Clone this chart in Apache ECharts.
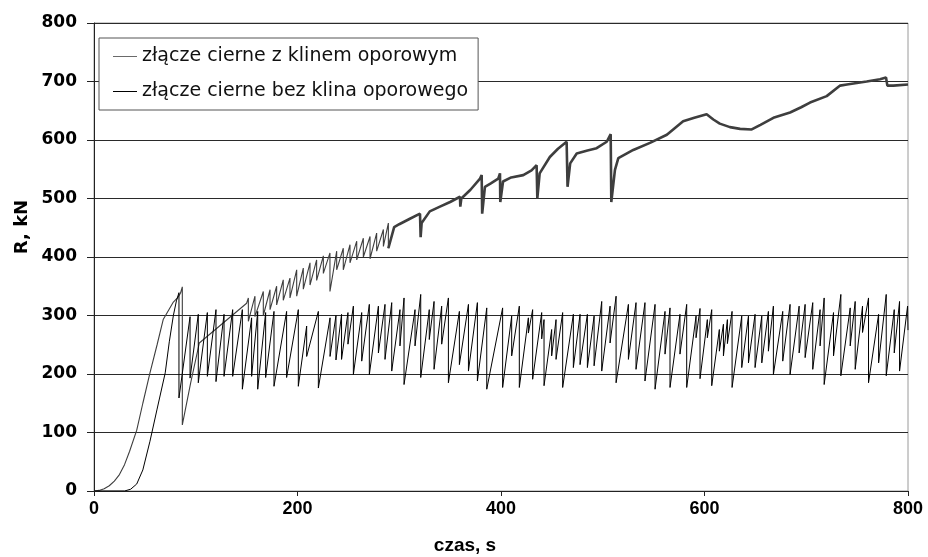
<!DOCTYPE html>
<html>
<head>
<meta charset="utf-8">
<script src="https://cdn.jsdelivr.net/npm/echarts@6/dist/echarts.min.js"></script>
<style>
  html, body { margin: 0; padding: 0; background: #fff; }
  #chart { width: 928px; height: 557px; }
</style>
</head>
<body>
<div id="chart"></div>
<script>
// Series names
const nameKlin = 'złącze cierne z klinem oporowym';
const nameBez = 'złącze cierne bez klina oporowego';

// Axis ticks
const xTicks = [0, 200, 400, 600, 800];
const yTicks = [0, 100, 200, 300, 400, 500, 600, 700, 800];

// --- złącze cierne z klinem oporowym (czas [s], R [kN]) ---
// initial loading
const klinRiseTime  = [0, 5, 10, 15, 20, 25, 30, 35, 42, 48, 55, 62, 68, 73, 78, 82, 85, 86.8];
const klinRiseForce = [0, 1, 4, 9, 17, 28, 45, 68, 104, 150, 202, 250, 293, 308, 323, 330, 338, 349];
// first slip and reloading
const klinMidTime  = [86.8, 95, 103.5, 150];
const klinMidForce = [113, 185, 253, 321];
// stick-slip teeth: slip time, force before slip, force after slip
const klinSlipTime = [151.7, 158.2, 166.4, 173, 179.5, 186, 192.6, 199.2, 205.7, 212.3, 218.8,
                      225.4, 231.9, 238.5, 245, 251.6, 258.2, 264.7, 271.3, 277.8, 284.4, 289.3];
const klinSlipPeak = [330, 333, 341, 344, 350, 361, 364, 378, 381, 390, 395,
                      402, 407, 410, 415, 421, 427, 432, 435, 441, 447, 458];
const klinSlipLow  = [290, 298, 300, 310, 318, 326, 330, 333, 345, 352, 360,
                      372, 341, 378, 378, 390, 395, 400, 397, 410, 418, 415];
// later part with dense small oscillations
const klinLateTime  = [295, 300, 310, 320.4, 321, 322, 330, 340, 350, 359.7, 360, 361, 370, 379.4, 381, 381.5,
                       384.2, 390, 397.3, 399, 399.3, 402, 410, 421.9, 430, 435, 435.7, 438, 448, 456, 464.5,
                       465.4, 468, 474.4, 485, 494, 503.9, 507.8, 508.4, 512, 515.3, 530, 546.4, 563, 579, 590,
                       602.1, 608.7, 615, 625, 635, 646.4, 655, 667.7, 684.1, 695, 703.7, 720.1, 733.3, 740,
                       759.4, 772.5, 778.4, 779.7, 785.6, 800];
const klinLateForce = [451, 456, 465, 474, 434, 458, 478, 486, 494, 503, 486, 500, 515, 534, 540, 474,
                       520, 526, 534, 543, 494, 529, 536, 540, 548, 557, 500, 543, 571, 585, 597,
                       520, 560, 577, 582, 586, 597, 610, 494, 549, 569, 583, 595, 609, 632, 638,
                       644, 635, 628, 622, 619, 618, 626, 638, 647, 656, 664, 675, 693, 695,
                       700, 704, 707, 693, 693, 695];

// --- złącze cierne bez klina oporowego (czas [s], R [kN]) ---
const bezRiseTime  = [0, 30, 36, 42, 48, 55, 62, 70, 74, 78, 81];
const bezRiseForce = [0, 0, 3, 12, 36, 85, 140, 202, 255, 300, 325];
// stick-slip teeth: slip time, force before slip, force after slip
const bezSlipTime = [83.5, 94.4, 102.5, 111.4, 119.9, 127.8, 136.3, 145.8, 154.9, 160.9, 168.7, 176.9, 189.3,
  200.8, 209, 220.5, 232, 237.8, 243.3, 249.6, 254.9, 263.1, 270.6, 279.5, 286, 292.6, 300.7, 304.7, 315.5,
  321.1, 329.5, 334.2, 341.7, 348.3, 359.1, 368, 376.8, 386, 401.6, 410.5, 418, 426.9, 431.1, 440, 442.3,
  449.8, 454.1, 460.6, 471.1, 477.7, 484.9, 491.5, 499, 507.2, 513.1, 525.2, 532.7, 541.5, 551.4, 561.2,
  566.1, 575.9, 582.5, 591.7, 595.6, 602.8, 607.1, 614.6, 618.6, 622.5, 627.1, 636.6, 643.2, 649.7, 656.3,
  662.8, 667.7, 676.9, 684.1, 693, 698.9, 706.4, 713.6, 717.6, 726.8, 734, 743.2, 748.1, 755.3, 761.2,
  771.1, 778.6, 786.5, 791.7];
const bezSlipPeak = [339, 298, 302, 305, 310, 302, 310, 310, 296, 307, 305, 307, 307, 310, 282, 307, 296, 300,
  302, 305, 316, 305, 319, 316, 319, 322, 310, 330, 310, 336, 310, 324, 316, 330, 307, 319, 322, 313, 313,
  299, 316, 296, 310, 305, 293, 276, 293, 305, 302, 302, 302, 299, 324, 316, 333, 319, 322, 322, 319, 307,
  313, 302, 319, 299, 312, 293, 310, 276, 285, 293, 307, 299, 299, 302, 299, 307, 316, 307, 319, 316, 319,
  322, 310, 330, 305, 336, 313, 324, 316, 330, 302, 336, 310, 324];
const bezSlipLow = [159, 193, 185, 196, 187, 196, 196, 174, 196, 174, 194, 179, 194, 179, 230, 176, 230, 224,
  225, 251, 199, 222, 199, 236, 225, 205, 248, 182, 248, 194, 259, 208, 251, 185, 216, 205, 188, 174, 177,
  231, 177, 270, 191, 260, 180, 231, 225, 177, 211, 216, 211, 214, 205, 253, 185, 225, 208, 188, 174, 234,
  177, 234, 177, 262, 192, 262, 180, 239, 231, 252, 177, 211, 219, 211, 219, 239, 199, 222, 199, 236, 228,
  208, 248, 182, 231, 197, 248, 208, 271, 185, 219, 197, 236, 205];
const bezEndTime  = [799.6, 800];
const bezEndForce = [316, 275];

// helpers building [x, y] pairs
function pairs(ts, vs) { return ts.map((t, i) => [t, vs[i]]); }
function teeth(ts, peaks, lows) {
  const out = [];
  ts.forEach((t, i) => { out.push([t, peaks[i]]); out.push([t, lows[i]]); });
  return out;
}

const klinEarly = [].concat(
  pairs(klinRiseTime, klinRiseForce),
  pairs(klinMidTime, klinMidForce),
  teeth(klinSlipTime, klinSlipPeak, klinSlipLow)
);
const klinLate = [klinEarly[klinEarly.length - 1]].concat(pairs(klinLateTime, klinLateForce));
const bezData = [].concat(
  pairs(bezRiseTime, bezRiseForce),
  teeth(bezSlipTime, bezSlipPeak, bezSlipLow),
  pairs(bezEndTime, bezEndForce)
);

const klinColor = '#3e3e3e';
const bezColor = '#000000';
const wideFont = '"DejaVu Sans", "Noto Sans", sans-serif';
const armFont = '"Liberation Sans", Arial, sans-serif';

const chart = echarts.init(document.getElementById('chart'), null, { renderer: 'canvas' });
chart.setOption({
  animation: false,
  backgroundColor: '#ffffff',
  grid: {
    left: 94, right: 20, top: 23, bottom: 66,
    show: true, borderColor: '#9a9a9a', borderWidth: 1, backgroundColor: 'transparent'
  },
  legend: {
    data: [
      { name: nameKlin, itemStyle: { color: '#6a6a6a', borderWidth: 0 } },
      { name: nameBez, itemStyle: { color: '#000000', borderWidth: 0 } }
    ],
    orient: 'vertical',
    left: 99, top: 38,
    padding: [8, 10, 8, 14],
    itemGap: 14,
    icon: 'rect',
    itemWidth: 24, itemHeight: 1,
    itemStyle: { borderWidth: 0 },
    backgroundColor: '#ffffff',
    borderColor: '#555555', borderWidth: 1, borderRadius: 0,
    textStyle: { fontFamily: wideFont, fontSize: 19, color: '#111', lineHeight: 21 }
  },
  xAxis: {
    type: 'value', min: xTicks[0], max: xTicks[xTicks.length - 1], interval: 200,
    axisLine: { show: true, onZero: false, lineStyle: { color: '#222', width: 1 } },
    axisTick: { show: true, length: 5, lineStyle: { color: '#222' } },
    splitLine: { show: false },
    axisLabel: { margin: 9, color: '#000', fontFamily: armFont, fontWeight: 'bold', fontSize: 18 }
  },
  yAxis: {
    type: 'value', min: yTicks[0], max: yTicks[yTicks.length - 1], interval: 100,
    axisLine: { show: true, lineStyle: { color: '#222', width: 1 } },
    axisTick: { show: true, length: 7, lineStyle: { color: '#222' } },
    splitLine: { show: true, lineStyle: { color: '#2a2a2a', width: 1 } },
    axisLabel: { margin: 17, color: '#000', fontFamily: wideFont, fontWeight: 'bold', fontSize: 17 }
  },
  graphic: [
    {
      type: 'text', x: 22, y: 227, rotation: Math.PI / 2,
      style: { text: 'R, kN', fill: '#000', font: 'bold 18px ' + wideFont, align: 'center', verticalAlign: 'middle' }
    },
    {
      type: 'text', x: 465, y: 546,
      style: { text: 'czas, s', fill: '#000', font: 'bold 19px ' + armFont, align: 'center', verticalAlign: 'middle' }
    }
  ],
  series: [
    {
      name: nameKlin, type: 'line', data: klinEarly, symbol: 'none', z: 2,
      lineStyle: { color: klinColor, width: 1.1 }, itemStyle: { color: '#6a6a6a' }
    },
    {
      name: nameKlin, type: 'line', data: klinLate, symbol: 'none', z: 2,
      lineStyle: { color: klinColor, width: 2.6 }, itemStyle: { color: '#6a6a6a' }
    },
    {
      name: nameBez, type: 'line', data: bezData, symbol: 'none', z: 3,
      lineStyle: { color: bezColor, width: 1 }, itemStyle: { color: '#000000' }
    }
  ]
});
</script>
</body>
</html>
